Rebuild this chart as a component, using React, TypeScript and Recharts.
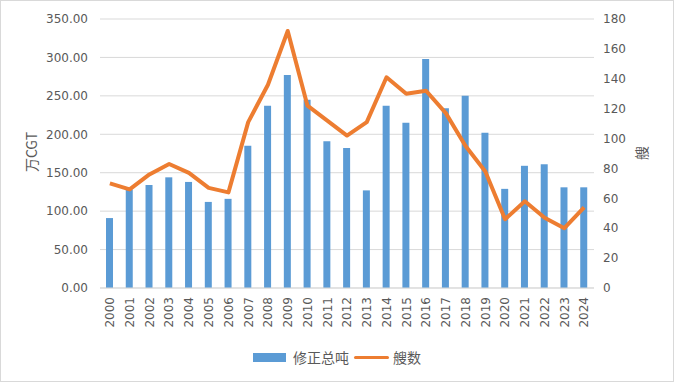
import { ComposedChart, Bar, Line, XAxis, YAxis, CartesianGrid, Legend } from "recharts"

const years = [
  "2000", "2001", "2002", "2003", "2004", "2005", "2006", "2007", "2008", "2009", "2010", "2011", "2012",
  "2013", "2014", "2015", "2016", "2017", "2018", "2019", "2020", "2021", "2022", "2023", "2024",
]
// 修正总吨 (万CGT)
const tonnage = [91, 128, 134, 144, 138, 112, 116, 185, 237, 277, 245, 191, 182, 127, 237, 215, 298, 234, 250, 202, 129, 159, 161, 131, 131]
// 艘数
const ships = [70, 66, 76, 83, 77, 67, 64, 111, 136, 172, 122, 112, 102, 111, 141, 130, 132, 117, 95, 78, 46, 58, 47, 40, 54]

const leftTicks = [0, 50, 100, 150, 200, 250, 300, 350]
const rightTicks = [0, 20, 40, 60, 80, 100, 120, 140, 160, 180]

const BLUE = "#5B9BD5"
const ORANGE = "#ED7D31"
const TEXT = "#595959"
const GRID = "#d9d9d9"
const NUM_FONT = "'DejaVu Sans', 'Noto Sans CJK SC', sans-serif"
const CJK_FONT = "'Noto Sans CJK SC', sans-serif"

const data = years.map((year, i) => ({ year, tonnage: tonnage[i], ships: ships[i] }))

function YearTick({ x, y, payload }: any) {
  return (
    <g transform={`translate(${x},${y})`}>
      <text transform="rotate(-90)" textAnchor="end" dy="0.36em" fontSize={12} fill={TEXT} fontFamily={NUM_FONT}>
        {payload.value}
      </text>
    </g>
  )
}

const leftTitle = () => (
  <text x={31} y={152} transform="rotate(-90 31 152)" textAnchor="middle" dominantBaseline="central" fontSize={14} fill={TEXT} fontFamily={CJK_FONT}>
    万CGT
  </text>
)

const rightTitle = () => (
  <text x={641} y={153} transform="rotate(-90 641 153)" textAnchor="middle" dominantBaseline="central" fontSize={14} fill={TEXT} fontFamily={CJK_FONT}>
    艘
  </text>
)

function LegendBox() {
  return (
    <div style={{ display: "flex", justifyContent: "center", alignItems: "center", fontFamily: CJK_FONT, fontSize: 14, color: TEXT, height: 20 }}>
      <span style={{ display: "inline-block", width: 33, height: 9, background: BLUE, marginRight: 7 }} />
      <span style={{ marginRight: 5 }}>修正总吨</span>
      <span style={{ display: "inline-block", width: 35, height: 3, background: ORANGE, borderRadius: 2, marginRight: 4 }} />
      <span>艘数</span>
    </div>
  )
}

export default function App() {
  return (
    <div style={{ position: "absolute", left: 0, top: 0, width: 674, height: 382 }}>
      <ComposedChart width={674} height={382} data={data} margin={{ top: 19, right: 0, bottom: 0, left: 0 }}>
        <CartesianGrid yAxisId="left" vertical={false} stroke={GRID} />
        <XAxis
          dataKey="year"
          height={94}
          interval={0}
          tickLine={false}
          tickSize={6}
          tickMargin={3}
          axisLine={{ stroke: GRID }}
          tick={<YearTick />}
        />
        <YAxis
          yAxisId="left"
          width={100}
          domain={[0, 350]}
          ticks={leftTicks}
          tickFormatter={(v: number) => v.toFixed(2)}
          axisLine={false}
          tickLine={false}
          tickSize={6}
          tickMargin={6}
          tick={{ fontSize: 12, fill: TEXT, fontFamily: NUM_FONT }}
          label={{ value: "万CGT", content: leftTitle }}
        />
        <YAxis
          yAxisId="right"
          orientation="right"
          width={80}
          domain={[0, 180]}
          ticks={rightTicks}
          axisLine={false}
          tickLine={false}
          tickSize={6}
          tickMargin={3}
          tick={{ fontSize: 12, fill: TEXT, fontFamily: NUM_FONT, textAnchor: "start" }}
          label={{ value: "艘", content: rightTitle }}
        />
        <Bar yAxisId="left" dataKey="tonnage" name="修正总吨" fill={BLUE} barSize={7} isAnimationActive={false} />
        <Line
          yAxisId="right"
          type="linear"
          dataKey="ships"
          name="艘数"
          stroke={ORANGE}
          strokeWidth={4}
          strokeLinejoin="round"
          dot={false}
          activeDot={false}
          isAnimationActive={false}
        />
        <Legend verticalAlign="middle" align="center" wrapperStyle={{ top: 347, left: 0, width: 674 }} content={<LegendBox />} />
      </ComposedChart>
      <div style={{ position: "absolute", left: 0, top: 0, width: 674, height: 382, boxSizing: "border-box", border: `1px solid ${GRID}`, pointerEvents: "none" }} />
    </div>
  )
}
